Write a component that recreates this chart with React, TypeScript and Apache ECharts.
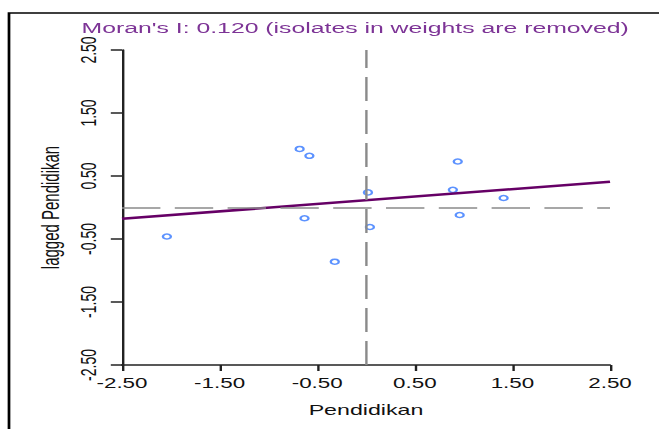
import React, { useEffect, useRef } from "react";
import * as echarts from "echarts";

// Standardised Pendidikan values (x) and their spatial lag (y)
const pendidikan = [-2.04, -0.68, -0.58, -0.63, -0.32, 0.02, 0.04, 0.94, 0.89, 0.96, 1.41];
const laggedPendidikan = [-0.46, 0.93, 0.82, -0.17, -0.86, 0.24, -0.31, 0.73, 0.28, -0.12, 0.15];
// Regression line end points (slope = Moran's I)
const fitX = [-2.5, 2.5];
const fitY = [-0.18, 0.41];
// Means (dashed reference lines)
const meanX = 0;
const meanLag = 0;
// Axis range, ticks every 1 from -2.5
const axisMin = -2.5;
const axisMax = 2.5;
const tickStep = 1;
const titleText = "Moran's I: 0.120 (isolates in weights are removed)";
const xName = "Pendidikan";
const yName = "lagged Pendidikan";

const STRETCH = 1.6;
const W = 659 / STRETCH;
const H = 429;
const FONT = "'Liberation Sans', Arial, Helvetica, sans-serif";

export default function App() {
  const ref = useRef<HTMLDivElement>(null);
  useEffect(() => {
    document.body.style.margin = "0";
    document.body.style.overflow = "hidden";
    if (!ref.current) return;
    const chart = echarts.init(ref.current, undefined, { renderer: "svg", width: W, height: H });
    const off = -axisMin;
    const span = axisMax - axisMin;
    const fmt = (v: number) => (v + axisMin).toFixed(2);
    const axisCommon = {
      type: "value" as const,
      min: 0,
      max: span,
      interval: tickStep,
      splitLine: { show: false },
      axisLine: { show: true, lineStyle: { color: "#222", width: 1.5 } },
      nameLocation: "middle" as const,
    };
    chart.setOption({
      animation: false,
      backgroundColor: "#fff",
      title: {
        text: titleText,
        left: 222,
        textAlign: "center",
        top: 19,
        padding: 0,
        textStyle: { color: "#7d3496", fontSize: 15.5, fontWeight: "normal", fontFamily: FONT },
      },
      graphic: [
        {
          type: "rect",
          shape: { x: 9 / STRETCH, y: 13, width: 1000, height: 1000 },
          style: { fill: "none", stroke: "#000", lineWidth: 1.7 },
          silent: true,
          z: 100,
        },
      ],
      grid: { left: 122 / STRETCH, right: W - 610 / STRETCH, top: 50, bottom: 64 },
      xAxis: {
        ...axisCommon,
        name: xName,
        nameGap: 37,
        nameTextStyle: { fontSize: 14.5, color: "#111", fontFamily: FONT },
        axisTick: { show: true, length: 6, lineStyle: { color: "#222", width: 1.5 } },
        axisLabel: { formatter: fmt, fontSize: 14, color: "#111", margin: 11, fontFamily: FONT },
      },
      yAxis: {
        ...axisCommon,
        name: yName,
        nameRotate: 90,
        nameGap: 37,
        nameTextStyle: { fontSize: 15, color: "#111", fontFamily: FONT },
        axisTick: { show: true, length: 7, lineStyle: { color: "#222", width: 1.5 } },
        axisLabel: { formatter: fmt, fontSize: 14, color: "#111", margin: 14, rotate: 90, fontFamily: FONT },
      },
      series: [
        {
          type: "scatter",
          data: pendidikan.map((x, i) => [x + off, laggedPendidikan[i] + off]),
          symbol: "circle",
          symbolSize: 5,
          itemStyle: { color: "rgba(0,0,0,0)", borderColor: "#3377ff", borderWidth: 1.5 },
          markLine: {
            silent: true,
            symbol: ["none", "none"],
            label: { show: false },
            lineStyle: { color: "#8a8a8a", width: 1.5, type: [24, 9] },
            data: [{ xAxis: meanX + off }, { yAxis: meanLag + off }],
          },
          z: 2,
        },
        {
          type: "line",
          data: fitX.map((x, i) => [x + off, fitY[i] + off]),
          showSymbol: false,
          lineStyle: { color: "#660066", width: 2.5 },
          z: 3,
        },
      ],
    });
    return () => chart.dispose();
  }, []);
  return (
    <div
      style={{
        position: "absolute",
        left: 0,
        top: 0,
        width: W,
        height: H,
        transform: `scaleX(${STRETCH})`,
        transformOrigin: "0 0",
      }}
    >
      <div ref={ref} style={{ width: W, height: H }} />
    </div>
  );
}
